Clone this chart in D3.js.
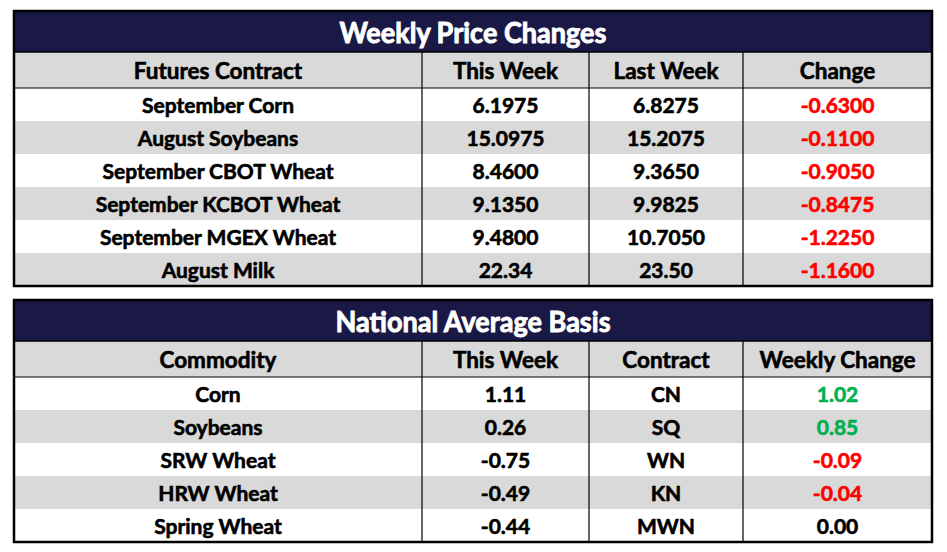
<!DOCTYPE html>
<html><head><meta charset="utf-8">
<script src="https://cdn.jsdelivr.net/npm/d3@7"></script>
<style>
html,body{margin:0;padding:0;background:#fff;}
svg{display:block;}
text{font-family:Lato,"Open Sans",sans-serif;font-weight:700;}
</style></head>
<body>
<svg id="c" width="947" height="552"></svg>
<script>
// ---- data ----
const priceTitle = "Weekly Price Changes";
const priceHeaders = ["Futures Contract", "This Week", "Last Week", "Change"];
const priceContracts = ["September Corn", "August Soybeans", "September CBOT Wheat", "September KCBOT Wheat", "September MGEX Wheat", "August Milk"];
const priceThisWeek = ["6.1975", "15.0975", "8.4600", "9.1350", "9.4800", "22.34"];
const priceLastWeek = ["6.8275", "15.2075", "9.3650", "9.9825", "10.7050", "23.50"];
const priceChange = [-0.6300, -0.1100, -0.9050, -0.8475, -1.2250, -1.1600];

const basisTitle = "National Average Basis";
const basisHeaders = ["Commodity", "This Week", "Contract", "Weekly Change"];
const basisCommodities = ["Corn", "Soybeans", "SRW Wheat", "HRW Wheat", "Spring Wheat"];
const basisThisWeek = ["1.11", "0.26", "-0.75", "-0.49", "-0.44"];
const basisContracts = ["CN", "SQ", "WN", "KN", "MWN"];
const basisChange = [1.02, 0.85, -0.09, -0.04, 0.00];

// ---- style / layout ----
const NAVY = "#1a1946", GREY = "#d9d9d9", RED = "#ff0000", GREEN = "#00b050";
const colEdges = [14, 422, 589, 743, 932];
const CAP = 0.72;

const svg = d3.select("#c");

function drawTable(top, title, headers, rows, rowH, decimals) {
  const left = colEdges[0], right = colEdges[colEdges.length - 1];
  const titleH = 41, headH = 36;
  const rowTop = top + titleH + headH;
  const y = d3.scaleBand().domain(d3.range(rows.length)).range([rowTop, rowTop + rowH * rows.length]);
  const bottom = rowTop + rowH * rows.length;
  const g = svg.append("g");

  g.append("rect").attr("x", left).attr("y", top).attr("width", right - left).attr("height", titleH).attr("fill", NAVY);
  g.append("rect").attr("x", left).attr("y", top + titleH).attr("width", right - left).attr("height", headH).attr("fill", GREY);
  g.selectAll("rect.row").data(rows).join("rect").attr("class", "row")
    .attr("x", left).attr("width", right - left)
    .attr("y", (d, i) => y(i)).attr("height", y.bandwidth())
    .attr("fill", (d, i) => i % 2 ? GREY : "#fff");

  g.append("line").attr("x1", left).attr("x2", right).attr("y1", top + titleH).attr("y2", top + titleH).attr("stroke", "#000").attr("stroke-width", 1.5);
  g.append("line").attr("x1", left).attr("x2", right).attr("y1", rowTop).attr("y2", rowTop).attr("stroke", "#000").attr("stroke-width", 1.2);
  g.selectAll("line.v").data(colEdges.slice(1, -1)).join("line").attr("class", "v")
    .attr("x1", d => d).attr("x2", d => d).attr("y1", top + titleH).attr("y2", bottom)
    .attr("stroke", "#000").attr("stroke-width", 1.2);
  g.append("rect").attr("x", left).attr("y", top).attr("width", right - left).attr("height", bottom - top)
    .attr("fill", "none").attr("stroke", "#000").attr("stroke-width", 2.5);

  function txt(x, yc, s, size, fill, sx, outline, ow) {
    g.append("text")
      .attr("transform", `translate(${x},${yc + size * CAP / 2}) scale(${sx},1)`)
      .attr("text-anchor", "middle").attr("font-size", size).attr("fill", fill)
      .attr("stroke", outline).attr("stroke-width", ow).attr("paint-order", "stroke")
      .text(s);
  }
  const cx = i => (colEdges[i] + colEdges[i + 1]) / 2;
  txt((left + right) / 2, top + titleH / 2 + 1, title, 28.5, "#fff", 0.95, "#fff", 0.9);
  headers.forEach((h, i) => txt(cx(i), top + titleH + headH / 2 + 1, h, 22.5, "#000", 1, "#000", 0.6));
  rows.forEach((r, ri) => {
    r.forEach((c, ci) => {
      let fill = "#000", s = c;
      if (ci === 3) { s = c.toFixed(decimals); fill = c < 0 ? RED : (c > 0 ? GREEN : "#000"); }
      txt(cx(ci), y(ri) + y.bandwidth() / 2 + 1, s, 21, fill, 1, fill, 0.6);
    });
  });
}

const priceRows = priceContracts.map((c, i) => [c, priceThisWeek[i], priceLastWeek[i], priceChange[i]]);
const basisRows = basisCommodities.map((c, i) => [c, basisThisWeek[i], basisContracts[i], basisChange[i]]);

drawTable(11, priceTitle, priceHeaders, priceRows, 33, 4);
drawTable(300, basisTitle, basisHeaders, basisRows, 33, 2);
</script>
</body></html>
